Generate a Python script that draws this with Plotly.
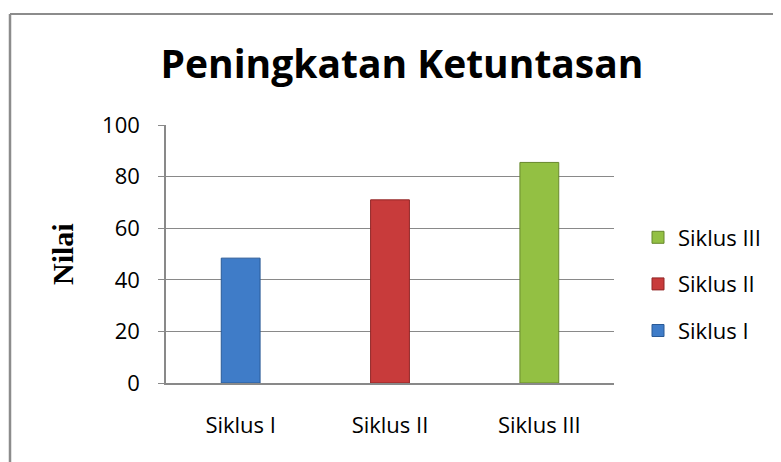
import plotly.graph_objects as go

categories = ["Siklus I", "Siklus II", "Siklus III"]
values = [48.4, 71, 85.5]
colors = ["#3F7CC8", "#C83B3B", "#93C043"]
line_colors = ["#2A5A96", "#912626", "#67882C"]
y_ticks = [0, 20, 40, 60, 80, 100]

# page has an 8px body margin; figure coords = page coords - 8
W, H = 773, 454
L, T = 158, 117
pw, ph = 448, 258
R, B = W - L - pw, H - T - ph

fig = go.Figure()
for i in reversed(range(len(categories))):
    fig.add_trace(go.Bar(
        x=[categories[i]], y=[values[i]], name=categories[i], width=0.26,
        marker=dict(color=colors[i], line=dict(color=line_colors[i], width=1)),
        legendgroup=categories[i], showlegend=True,
    ))

fig.update_layout(
    width=W, height=H,
    margin=dict(l=L, r=R, t=T, b=B),
    paper_bgcolor="white", plot_bgcolor="white",
    barmode="overlay",
    font=dict(family="Open Sans, Liberation Sans, sans-serif", size=22, color="black"),
    title=dict(text="<b>Peningkatan Ketuntasan</b>", x=394 / W, xanchor="center",
               y=1 - 56 / H, yanchor="middle",
               font=dict(family="Open Sans, sans-serif", size=39, color="black")),
    legend=dict(x=(630 - L) / pw, xanchor="left", y=1 - (276 - T) / ph, yanchor="middle",
                traceorder="grouped", tracegroupgap=15,
                font=dict(size=22), bgcolor="rgba(0,0,0,0)"),
    showlegend=True,
)
fig.update_yaxes(range=[0, 100.01], tickvals=y_ticks, showgrid=True, gridcolor="#898989",
                 gridwidth=1.2, showline=True, linecolor="#898989", linewidth=1.5,
                 ticks="outside", ticklen=6, tickcolor="#898989", zeroline=False,
                 tickfont=dict(size=22), ticklabelstandoff=14, fixedrange=True)
fig.update_xaxes(showline=True, linecolor="#898989", linewidth=1.5, ticks="",
                 tickfont=dict(size=22), categoryorder="array", categoryarray=categories,
                 ticklabelstandoff=22)

fig.add_annotation(text="<b>Nilai</b>", textangle=-90, xref="paper", yref="paper",
                   x=(54 - L) / pw, y=1 - (246 - T) / ph, showarrow=False,
                   xanchor="center", yanchor="middle",
                   font=dict(family="Liberation Serif, serif", size=30, color="black"))

# outer border (left and top edges visible)
fig.add_shape(type="line", xref="paper", yref="paper",
              x0=(2 - L) / pw, x1=(2 - L) / pw, y0=1 - (H + 10 - T) / ph, y1=1 - (6 - T) / ph,
              line=dict(color="#8c8c8c", width=2.5))
fig.add_shape(type="line", xref="paper", yref="paper",
              x0=(2 - L) / pw, x1=(W + 10 - L) / pw, y0=1 - (6 - T) / ph, y1=1 - (6 - T) / ph,
              line=dict(color="#8c8c8c", width=2))

fig.write_html("out.html")
